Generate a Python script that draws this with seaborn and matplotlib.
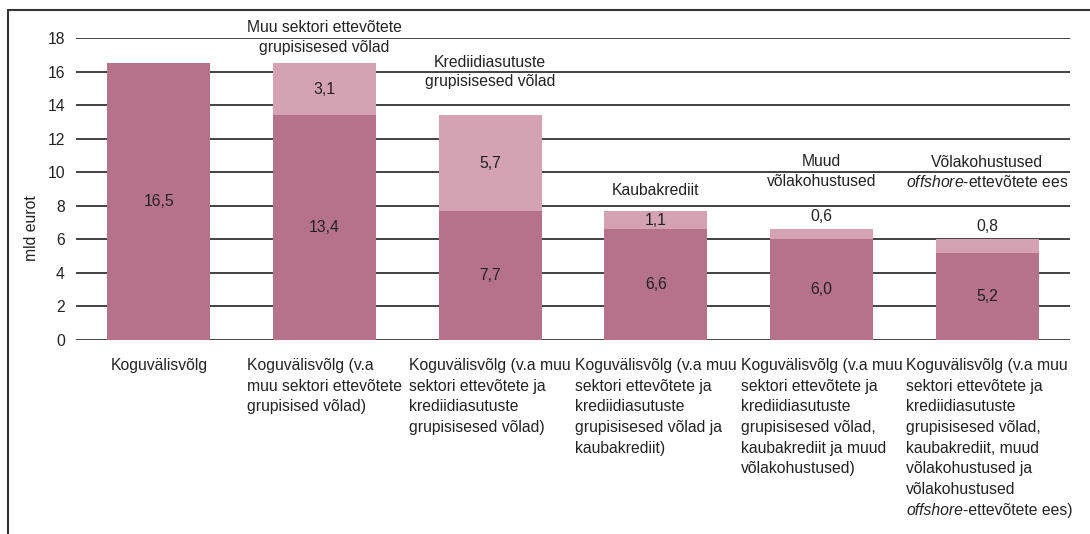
import matplotlib
matplotlib.use("Agg")
import matplotlib.pyplot as plt
import seaborn as sns
import pandas as pd
from matplotlib.lines import Line2D

# data (mld eurot)
categories = [
    "Koguvälisvõlg",
    "Koguvälisvõlg (v.a\nmuu sektori ettevõtete\ngrupisised võlad)",
    "Koguvälisvõlg (v.a muu\nsektori ettevõtete ja\nkrediidiasutuste\ngrupisisesed võlad)",
    "Koguvälisvõlg (v.a muu\nsektori ettevõtete ja\nkrediidiasutuste\ngrupisisesed võlad ja\nkaubakrediit)",
    "Koguvälisvõlg (v.a muu\nsektori ettevõtete ja\nkrediidiasutuste\ngrupisisesed võlad,\nkaubakrediit ja muud\nvõlakohustused)",
    "Koguvälisvõlg (v.a muu\nsektori ettevõtete ja\nkrediidiasutuste\ngrupisisesed võlad,\nkaubakrediit, muud\nvõlakohustused ja\nvõlakohustused",
]
# last line of the last label has an italic word, drawn separately
last_line = ("offshore", "-ettevõtete ees)")

base_values = [16.5, 13.4, 7.7, 6.6, 6.0, 5.2]
removed_values = [0.0, 3.1, 5.7, 1.1, 0.6, 0.8]
removed_names = [
    "",
    "Muu sektori ettevõtete\ngrupisisesed võlad",
    "Krediidiasutuste\ngrupisisesed võlad",
    "Kaubakrediit",
    "Muud\nvõlakohustused",
    "Võlakohustused\n$\\mathit{offshore}$-ettevõtete ees",
]
# vertical placement of the component names (data units)
name_y = [None, 18.05, 16.0, 8.9, 10.05, 10.0]

df = pd.DataFrame({"kategooria": categories, "alus": base_values, "eemaldatud": removed_values})
df["kokku"] = df["alus"] + df["eemaldatud"]

DARK = "#b7728b"
LIGHT = "#d4a2b2"
TXT = "#222222"
FS = 11.3

sns.set_style("white")
plt.rcParams["font.family"] = ["Liberation Sans", "DejaVu Sans"]
plt.rcParams["mathtext.fontset"] = "custom"
plt.rcParams["mathtext.rm"] = "Liberation Sans"
plt.rcParams["mathtext.it"] = "Liberation Sans:italic"

fig = plt.figure(figsize=(10.9, 5.34), dpi=100)
ax = fig.add_axes([76 / 1090, 1 - 340 / 534, 994 / 1090, (340 - 38.3) / 534])

sns.barplot(data=df, x="kategooria", y="kokku", order=categories, color=LIGHT,
            saturation=1, width=0.62, linewidth=0, edgecolor="none", ax=ax, zorder=2)
sns.barplot(data=df, x="kategooria", y="alus", order=categories, color=DARK,
            saturation=1, width=0.62, linewidth=0, edgecolor="none", ax=ax, zorder=3)

ax.set_ylim(0, 18)
ax.set_xlim(-0.5, len(categories) - 0.5)
ax.set_yticks(range(0, 19, 2))
ax.yaxis.grid(True, color="#222222", linewidth=1.2)
ax.set_axisbelow(True)
for s in ax.spines.values():
    s.set_visible(False)
ax.tick_params(axis="both", length=0, labelsize=FS, labelcolor=TXT)
ax.tick_params(axis="y", pad=8)
ax.tick_params(axis="x", pad=13)
ax.set_xlabel("")
ax.set_ylabel("mld eurot", fontsize=FS, color=TXT)
ax.yaxis.set_label_coords(-0.037, 0.37)

xlabels = ax.get_xticklabels()
for lbl in xlabels:
    lbl.set_multialignment("left")
    lbl.set_linespacing(1.47)

# italic word on the last line of the last tick label
it = ax.annotate(last_line[0], xy=(0, 0), xycoords=xlabels[-1], xytext=(0, -4.6),
                 textcoords="offset points", ha="left", va="top",
                 fontsize=FS, color=TXT, style="italic", annotation_clip=False)
ax.annotate(last_line[1], xy=(1, 0), xycoords=it, ha="left", va="bottom",
            fontsize=FS, color=TXT, annotation_clip=False)

# value labels
for i, (b, r) in enumerate(zip(base_values, removed_values)):
    ax.text(i, b / 2, f"{b:.1f}".replace(".", ","), ha="center", va="center",
            fontsize=FS, color=TXT, zorder=5)
    if r == 0:
        continue
    if r < 1:
        ax.annotate(f"{r:.1f}".replace(".", ","), (i, b + r), xytext=(0, 4),
                    textcoords="offset points", ha="center", va="bottom",
                    fontsize=FS, color=TXT, zorder=5)
    else:
        ax.text(i, b + r / 2, f"{r:.1f}".replace(".", ","), ha="center", va="center",
                fontsize=FS, color=TXT, zorder=5)

# component names above bars
for i, name in enumerate(removed_names):
    if not name:
        continue
    ax.text(i, name_y[i], name, ha="center", va="center", fontsize=FS, color=TXT,
            linespacing=1.35, clip_on=False, zorder=5)

# outer frame (cut at right and bottom)
fx, fy = 8 / 1090, 1 - 10 / 534
fig.add_artist(Line2D([fx, fx], [fy, 0], transform=fig.transFigure, color="#333333", lw=1.5))
fig.add_artist(Line2D([fx, 1], [fy, fy], transform=fig.transFigure, color="#333333", lw=1.5))

fig.savefig("out.png", dpi=100)
